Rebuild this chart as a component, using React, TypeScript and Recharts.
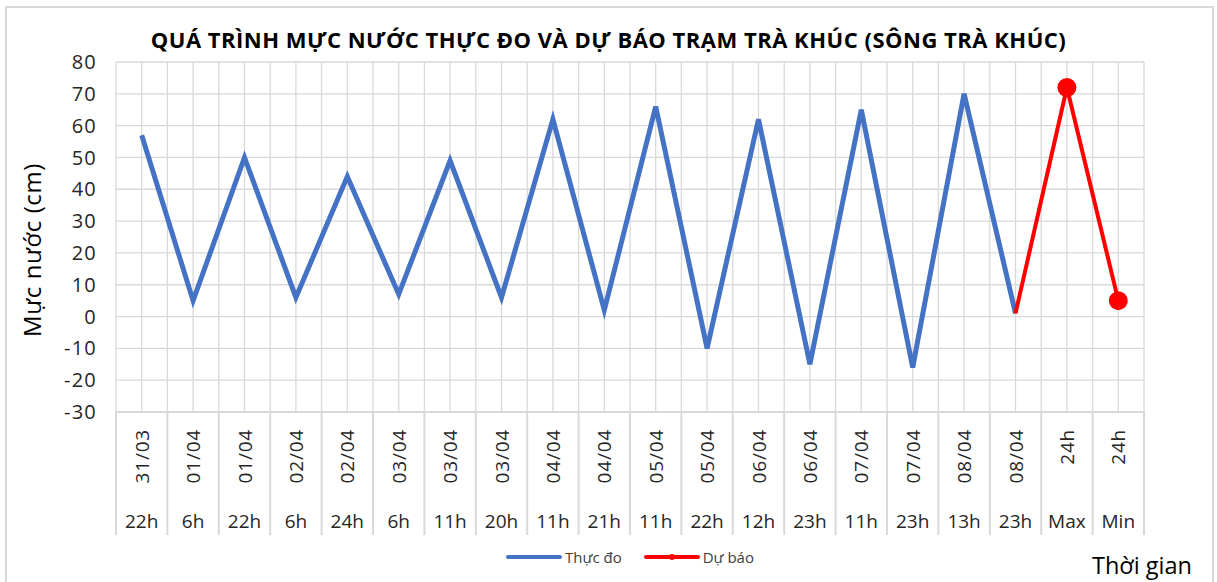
import { LineChart, Line, XAxis, YAxis, CartesianGrid } from "recharts";

const dates = ["31/03", "01/04", "01/04", "02/04", "02/04", "03/04", "03/04", "03/04", "04/04", "04/04", "05/04", "05/04", "06/04", "06/04", "07/04", "07/04", "08/04", "08/04", "24h", "24h"];
const hours = ["22h", "6h", "22h", "6h", "24h", "6h", "11h", "20h", "11h", "21h", "11h", "22h", "12h", "23h", "11h", "23h", "13h", "23h", "Max", "Min"];
const measured = [57, 5, 50, 6, 44, 7, 49, 6, 62, 2, 66, -10, 62, -15, 65, -16, 70, 1, null, null];
const forecast = [null, null, null, null, null, null, null, null, null, null, null, null, null, null, null, null, null, 1, 72, 5];
const yTicks = [-30, -20, -10, 0, 10, 20, 30, 40, 50, 60, 70, 80];

const data = hours.map((h, i) => ({
  key: i,
  date: dates[i],
  hour: h,
  measured: measured[i],
  forecast: forecast[i],
}));

const W = 1217;
const H = 582;
const Y_AXIS_W = 116;
const X_AXIS_H = 123;
const M = { top: 62, right: 73, bottom: 47, left: 0 };
const PLOT_W = W - Y_AXIS_W - M.right;
const AXIS_Y = H - M.bottom - X_AXIS_H;
const BAND = PLOT_W / data.length;
const FONT = "'Open Sans', sans-serif";
const GRID = "#d9d9d9";
const TXT = "#262626";

function CategoryTick(props: any) {
  const { x, payload } = props;
  const i = payload.index;
  const half = BAND / 2;
  return (
    <g>
      <line x1={x - half} x2={x - half} y1={AXIS_Y} y2={AXIS_Y + X_AXIS_H} stroke={GRID} strokeWidth={2} />
      {i === data.length - 1 && (
        <line x1={x + half} x2={x + half} y1={AXIS_Y} y2={AXIS_Y + X_AXIS_H} stroke={GRID} strokeWidth={2} />
      )}
      <text
        transform={`translate(${x + 7},${AXIS_Y + 17}) rotate(-90)`}
        textAnchor="end"
        fontSize={19}
        letterSpacing={0.8}
        fill={TXT}
        fontFamily={FONT}
      >
        {dates[i]}
      </text>
      <text x={x} y={AXIS_Y + 116} textAnchor="middle" fontSize={19} fill={TXT} fontFamily={FONT}>
        {hours[i]}
      </text>
    </g>
  );
}

function ForecastDot(props: any) {
  const { cx, cy, index } = props;
  if (index < data.length - 2 || cy == null) return <g key={index} />;
  return <circle key={index} cx={cx} cy={cy} r={9.5} fill="#ff0000" />;
}

function LegendBox() {
  return (
    <div
      style={{
        position: "absolute",
        left: Y_AXIS_W,
        top: 547,
        width: PLOT_W,
        display: "flex",
        justifyContent: "center",
        alignItems: "center",
        gap: 22,
        fontFamily: FONT,
        fontSize: 15,
        color: "#404040",
      }}
    >
      <div style={{ display: "flex", alignItems: "center" }}>
        <svg width={56} height={10}>
          <line x1={2} x2={54} y1={5} y2={5} stroke="#4472c4" strokeWidth={4} strokeLinecap="round" />
        </svg>
        <span style={{ marginLeft: 3 }}>Thực đo</span>
      </div>
      <div style={{ display: "flex", alignItems: "center" }}>
        <svg width={56} height={10}>
          <line x1={2} x2={54} y1={5} y2={5} stroke="#ff0000" strokeWidth={4} strokeLinecap="round" />
          <circle cx={28} cy={5} r={3} fill="#ff0000" />
        </svg>
        <span style={{ marginLeft: 3 }}>Dự báo</span>
      </div>
    </div>
  );
}

export default function App() {
  return (
    <div style={{ position: "fixed", left: 0, top: 0, width: W, height: H, background: "#fff", overflow: "hidden" }}>
      <div style={{ position: "absolute", left: 5, top: 6, width: 1209, height: 600, border: `2px solid ${GRID}`, boxSizing: "border-box" }} />
      <div
        style={{
          position: "absolute",
          left: 0,
          top: 24,
          width: W,
          textAlign: "center",
          fontFamily: FONT,
          fontWeight: 700,
          fontSize: 22,
          letterSpacing: 0.5,
          color: "#000",
        }}
      >
        QUÁ TRÌNH MỰC NƯỚC THỰC ĐO VÀ DỰ BÁO TRẠM TRÀ KHÚC (SÔNG TRÀ KHÚC)
      </div>
      <div
        style={{
          position: "absolute",
          left: 31,
          top: 250,
          transform: "translate(-50%, -50%) rotate(-90deg)",
          whiteSpace: "nowrap",
          fontFamily: FONT,
          fontSize: 24,
          letterSpacing: 0.6,
          color: "#000",
        }}
      >
        Mực nước (cm)
      </div>
      <div style={{ position: "absolute", left: 1092, top: 549, fontFamily: FONT, fontSize: 23.5, color: "#000", whiteSpace: "nowrap" }}>
        Thời gian
      </div>
      <LineChart width={W} height={H} data={data} margin={M}>
        <CartesianGrid
          stroke={GRID}
          strokeWidth={1.3}
          verticalCoordinatesGenerator={({ offset }: any) =>
            Array.from({ length: data.length * 2 + 1 }, (_, i) => offset.left + (i * offset.width) / (data.length * 2))
          }
        />
        <XAxis
          dataKey="key"
          scale="band"
          interval={0}
          height={X_AXIS_H}
          tickLine={false}
          axisLine={{ stroke: GRID, strokeWidth: 2 }}
          tick={<CategoryTick />}
        />
        <YAxis
          domain={[-30, 80]}
          ticks={yTicks}
          interval={0}
          width={Y_AXIS_W}
          axisLine={false}
          tickLine={false}
          tickMargin={13}
          tick={{ fontSize: 20, fill: TXT, fontFamily: FONT, letterSpacing: 1.2 }}
        />
        <Line
          type="linear"
          dataKey="measured"
          stroke="#4472c4"
          strokeWidth={5}
          dot={false}
          activeDot={false}
          connectNulls={false}
          isAnimationActive={false}
        />
        <Line
          type="linear"
          dataKey="forecast"
          stroke="#ff0000"
          strokeWidth={4}
          dot={<ForecastDot />}
          activeDot={false}
          isAnimationActive={false}
        />
      </LineChart>
      <LegendBox />
    </div>
  );
}
